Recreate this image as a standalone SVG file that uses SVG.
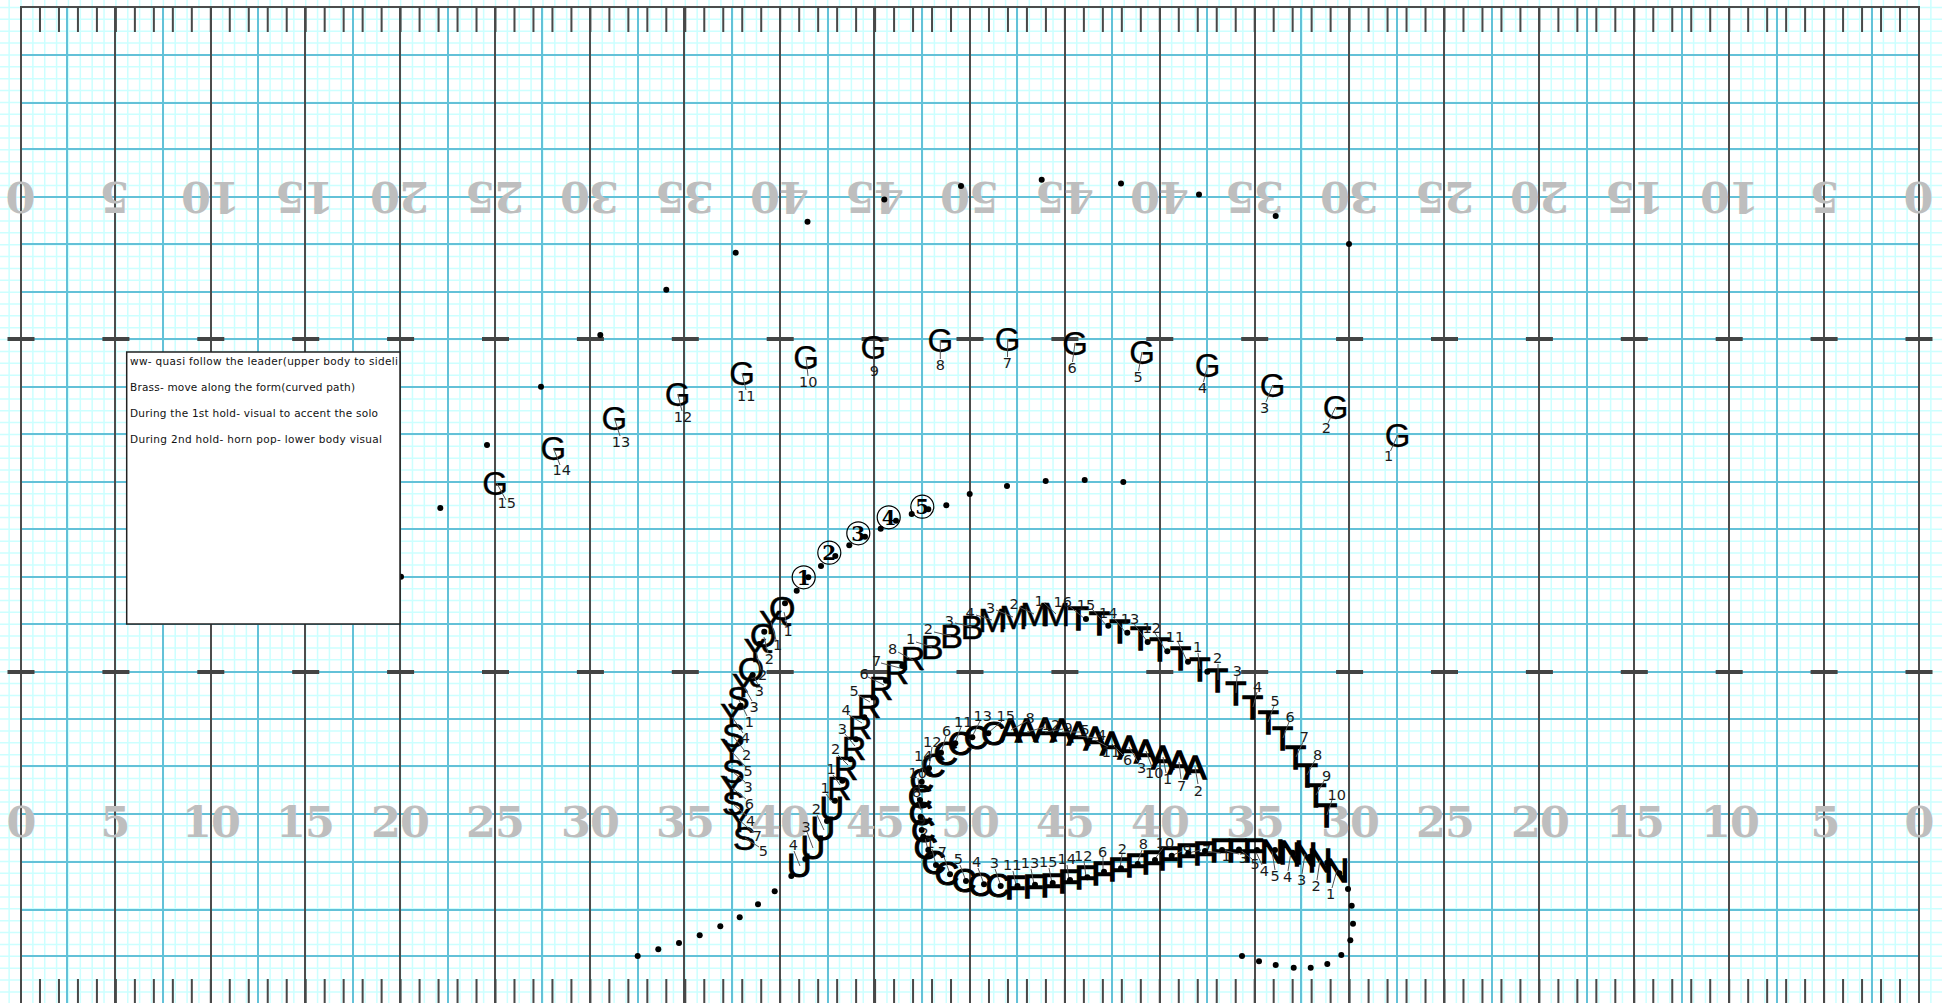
<svg xmlns="http://www.w3.org/2000/svg" width="1942" height="1003" viewBox="0 0 1942 1003">
<style>
.y{font:bold 43px "DejaVu Serif",serif;fill:#bebebe;text-anchor:middle;letter-spacing:-1px}
.p{font:34px "Liberation Sans",Arial,sans-serif;fill:#000;text-anchor:middle;stroke:#000;stroke-width:.6}
[id^=G] .p{font-size:33px;stroke-width:.25}
.c{stroke:#000;stroke-width:1}
.f{stroke:#000;stroke-width:1.5}
.n{font:14.5px "DejaVu Sans",sans-serif;fill:#1a1a1a;text-anchor:middle}
.o{font:bold 20px "DejaVu Serif",serif;fill:#000;text-anchor:middle}
.ring{fill:none;stroke:#000;stroke-width:1.2}
.d circle{fill:#000;r:3px}
.ld line{stroke:#555;stroke-width:1}
.t{font:10.5px "DejaVu Sans",sans-serif;fill:#111}
</style>
<rect width="1942" height="1003" fill="#fff"/>
<g id="grid" fill="none">
<line x1="0" x2="1942" y1="501.5" y2="501.5" stroke="#ccffff" stroke-width="1003" stroke-dasharray="1.5 10.3625" stroke-dashoffset="3.4725"/>
<line x1="971" x2="971" y1="0" y2="1003" stroke="#ccffff" stroke-width="1942" stroke-dasharray="1.5 10.36" stroke-dashoffset="5.11"/>
<path stroke="#63c1d8" stroke-width="2" d="M67 7V1003M163 7V1003M258 7V1003M353 7V1003M448 7V1003M542 7V1003M638 7V1003M732 7V1003M828 7V1003M922 7V1003M1017 7V1003M1112 7V1003M1207 7V1003M1301 7V1003M1397 7V1003M1492 7V1003M1587 7V1003M1682 7V1003M1777 7V1003M1872 7V1003M21 55H1919M21 103H1919M21 149H1919M21 197H1919M21 244H1919M21 292H1919M21 339H1919M21 387H1919M21 434H1919M21 482H1919M21 529H1919M21 577H1919M21 624H1919M21 672H1919M21 719H1919M21 766H1919M21 814H1919M21 862H1919M21 910H1919M21 956H1919"/>
<path stroke="#4c4c4c" stroke-width="2" d="M21 7V1003M115 7V1003M211 7V1003M305 7V1003M400 7V1003M495 7V1003M590 7V1003M684 7V1003M780 7V1003M874 7V1003M970 7V1003M1065 7V1003M1160 7V1003M1255 7V1003M1349 7V1003M1444 7V1003M1539 7V1003M1634 7V1003M1729 7V1003M1824 7V1003M1919 7V1003M20 7H1920"/>
<line x1="20" x2="1920" y1="19.500" y2="19.500" stroke="#484848" stroke-width="25" stroke-dasharray="2 16.98"/>
<line x1="20" x2="1920" y1="991" y2="991" stroke="#484848" stroke-width="24" stroke-dasharray="2 16.98"/>
<line x1="7.500" x2="1935" y1="339" y2="339" stroke="#444" stroke-width="4" stroke-dasharray="27 67.9"/>
<line x1="7.500" x2="1935" y1="672" y2="672" stroke="#444" stroke-width="4" stroke-dasharray="27 67.9"/>
</g>
<g id="yards-bottom">
<text class="y" x="21" y="837">0</text><text class="y" x="115" y="837">5</text><text class="y" x="211" y="837">10</text><text class="y" x="305" y="837">15</text><text class="y" x="400" y="837">20</text><text class="y" x="495" y="837">25</text><text class="y" x="590" y="837">30</text><text class="y" x="685" y="837">35</text><text class="y" x="780" y="837">40</text><text class="y" x="875" y="837">45</text><text class="y" x="970" y="837">50</text><text class="y" x="1065" y="837">45</text><text class="y" x="1160" y="837">40</text><text class="y" x="1255" y="837">35</text><text class="y" x="1350" y="837">30</text><text class="y" x="1445" y="837">25</text><text class="y" x="1540" y="837">20</text><text class="y" x="1635" y="837">15</text><text class="y" x="1730" y="837">10</text><text class="y" x="1825" y="837">5</text><text class="y" x="1919" y="837">0</text>
</g>
<g id="yards-top">
<text class="y" transform="rotate(180 21 198.500)" x="21" y="215">0</text><text class="y" transform="rotate(180 115 198.500)" x="115" y="215">5</text><text class="y" transform="rotate(180 211 198.500)" x="211" y="215">10</text><text class="y" transform="rotate(180 305 198.500)" x="305" y="215">15</text><text class="y" transform="rotate(180 400 198.500)" x="400" y="215">20</text><text class="y" transform="rotate(180 495 198.500)" x="495" y="215">25</text><text class="y" transform="rotate(180 590 198.500)" x="590" y="215">30</text><text class="y" transform="rotate(180 685 198.500)" x="685" y="215">35</text><text class="y" transform="rotate(180 780 198.500)" x="780" y="215">40</text><text class="y" transform="rotate(180 875 198.500)" x="875" y="215">45</text><text class="y" transform="rotate(180 970 198.500)" x="970" y="215">50</text><text class="y" transform="rotate(180 1065 198.500)" x="1065" y="215">45</text><text class="y" transform="rotate(180 1160 198.500)" x="1160" y="215">40</text><text class="y" transform="rotate(180 1255 198.500)" x="1255" y="215">35</text><text class="y" transform="rotate(180 1350 198.500)" x="1350" y="215">30</text><text class="y" transform="rotate(180 1445 198.500)" x="1445" y="215">25</text><text class="y" transform="rotate(180 1540 198.500)" x="1540" y="215">20</text><text class="y" transform="rotate(180 1635 198.500)" x="1635" y="215">15</text><text class="y" transform="rotate(180 1730 198.500)" x="1730" y="215">10</text><text class="y" transform="rotate(180 1825 198.500)" x="1825" y="215">5</text><text class="y" transform="rotate(180 1919 198.500)" x="1919" y="215">0</text>
</g>
<g id="trail" class="d">
<circle cx="401" cy="576.700"/>
<circle cx="1349" cy="244"/><circle cx="1275.700" cy="216"/><circle cx="1199" cy="194.500"/><circle cx="1121" cy="183.500"/><circle cx="1041.700" cy="179.700"/><circle cx="961" cy="186"/><circle cx="884.300" cy="199.500"/><circle cx="807.500" cy="221.700"/><circle cx="735.700" cy="252.700"/><circle cx="666.300" cy="289.800"/><circle cx="600.300" cy="335"/><circle cx="541" cy="386.700"/><circle cx="487" cy="445"/><circle cx="440.300" cy="508"/>
<circle cx="796.700" cy="590.700"/><circle cx="821" cy="566"/><circle cx="849.300" cy="545.300"/><circle cx="880.700" cy="528.700"/><circle cx="911.700" cy="514"/><circle cx="946.300" cy="505.300"/><circle cx="969.700" cy="494"/><circle cx="1007" cy="486"/><circle cx="1045.700" cy="481"/><circle cx="1084.700" cy="480"/><circle cx="1123.300" cy="482"/>
<circle cx="637.700" cy="956"/><circle cx="658.300" cy="949.300"/><circle cx="679" cy="943"/><circle cx="699.700" cy="935.300"/><circle cx="720.300" cy="926.300"/><circle cx="739.700" cy="917.300"/><circle cx="758" cy="904.300"/><circle cx="774.700" cy="891.300"/>
<circle cx="1242" cy="956"/><circle cx="1259" cy="961.300"/><circle cx="1275.700" cy="965"/><circle cx="1293.700" cy="967.700"/><circle cx="1310.700" cy="967.700"/><circle cx="1327.300" cy="964"/><circle cx="1341.300" cy="955"/><circle cx="1350.300" cy="940.300"/><circle cx="1353" cy="923.700"/><circle cx="1351.700" cy="905.700"/><circle cx="1348" cy="889"/>
</g>
<g id="soloists">
<g id="solo1"><circle class="ring" cx="803.700" cy="577.300" r="11.500"/><text class="o" x="803.700" y="584.500">1</text></g>
<g id="solo2"><circle class="ring" cx="829.300" cy="552.700" r="11.500"/><text class="o" x="829.300" y="560">2</text></g>
<g id="solo3"><circle class="ring" cx="858.300" cy="533.300" r="11.500"/><text class="o" x="858.300" y="540.500">3</text></g>
<g id="solo4"><circle class="ring" cx="888.700" cy="517.300" r="11.500"/><text class="o" x="888.700" y="524.500">4</text></g>
<g id="solo5"><circle class="ring" cx="922.300" cy="506.700" r="11.500"/><text class="o" x="922.300" y="514">5</text></g>
</g>
<g id="performers">
<g id="G15"><text class="p" x="495" y="494.500">G</text></g><g id="G14"><text class="p" x="553.300" y="460">G</text></g><g id="G13"><text class="p" x="614.300" y="430">G</text></g><g id="G12"><text class="p" x="677.700" y="406">G</text></g><g id="G11"><text class="p" x="742" y="385">G</text></g><g id="G10"><text class="p" x="806" y="369.300">G</text></g><g id="G9"><text class="p" x="873.300" y="359.300">G</text></g><g id="G8"><text class="p" x="940.300" y="352.300">G</text></g><g id="G7"><text class="p" x="1007.700" y="351.300">G</text></g><g id="G6"><text class="p" x="1075" y="354.700">G</text></g><g id="G5"><text class="p" x="1142" y="364.300">G</text></g><g id="G4"><text class="p" x="1207.700" y="377.300">G</text></g><g id="G3"><text class="p" x="1272.700" y="396.700">G</text></g><g id="G2"><text class="p" x="1335.700" y="418.700">G</text></g><g id="G1"><text class="p" x="1397.700" y="447">G</text></g>
<g id="Q1"><text class="p" x="782.300" y="620">Q</text></g><g id="Y1"><text class="p" x="770.700" y="634">Y</text></g><g id="Q2"><text class="p" x="763.300" y="647">Q</text></g><g id="Y2"><text class="p" x="755" y="662">Y</text></g><g id="Q3"><text class="p" x="751" y="681">Q</text></g><g id="Y3"><text class="p" x="743.300" y="697">Y</text></g><g id="S1"><text class="p" x="738.300" y="710">S</text></g><g id="Y4"><text class="p" x="731.700" y="727">Y</text></g><g id="S2"><text class="p" x="733.300" y="747">S</text></g><g id="Y5"><text class="p" x="731.700" y="762">Y</text></g><g id="S3"><text class="p" x="733.300" y="782.700">S</text></g><g id="Y6"><text class="p" x="731.700" y="798.700">Y</text></g><g id="S4"><text class="p" x="733.300" y="815.300">S</text></g><g id="Y7"><text class="p" x="739.300" y="832">Y</text></g><g id="S5"><text class="p" x="744.300" y="850.300">S</text></g>
<g id="U1"><text class="p c" x="831.700" y="820">U</text></g><g id="U2"><text class="p c" x="822.700" y="840">U</text></g><g id="U3"><text class="p c" x="812.700" y="858.700">U</text></g><g id="U4"><text class="p c" x="799.300" y="877">U</text></g>
<g id="R1"><text class="p" x="839.300" y="800.300">R</text></g><g id="R2"><text class="p" x="846" y="780">R</text></g><g id="R3"><text class="p" x="854" y="760">R</text></g><g id="R4"><text class="p" x="860" y="738.700">R</text></g><g id="R5"><text class="p" x="869" y="717.700">R</text></g><g id="R6"><text class="p" x="881" y="700.300">R</text></g><g id="R7"><text class="p" x="896.700" y="683.700">R</text></g><g id="R8"><text class="p" x="913" y="670">R</text></g>
<g id="B1"><text class="p" x="932" y="659">B</text></g><g id="B2"><text class="p" x="951.500" y="648">B</text></g><g id="B3"><text class="p" x="972" y="639">B</text></g>
<g id="M4"><text class="p" x="992.300" y="632">M</text></g><g id="M3"><text class="p" x="1013.300" y="628.700">M</text></g><g id="M2"><text class="p" x="1034.300" y="626.300">M</text></g><g id="M1"><text class="p" x="1056" y="626.300">M</text></g>
<g id="T16"><text class="p f" x="1078.300" y="630">T</text></g><g id="T15"><text class="p f" x="1099.300" y="635.300">T</text></g><g id="T14"><text class="p f" x="1120" y="643">T</text></g><g id="T13"><text class="p f" x="1140.700" y="650.300">T</text></g><g id="T12"><text class="p f" x="1160" y="661.300">T</text></g><g id="T11"><text class="p f" x="1180.700" y="670.300">T</text></g><g id="T1"><text class="p f" x="1200" y="681">T</text></g><g id="T2"><text class="p f" x="1217.700" y="692">T</text></g><g id="T3"><text class="p f" x="1236" y="705">T</text></g><g id="T4"><text class="p f" x="1252.700" y="719.300">T</text></g><g id="T5"><text class="p f" x="1268.300" y="733.700">T</text></g><g id="T6"><text class="p f" x="1282.700" y="750.300">T</text></g><g id="T7"><text class="p f" x="1295.700" y="768.700">T</text></g><g id="T8"><text class="p f" x="1307.300" y="787">T</text></g><g id="T9"><text class="p f" x="1316" y="807.300">T</text></g><g id="T10"><text class="p f" x="1326.700" y="827">T</text></g>
<g id="A8"><text class="p f" x="1010.700" y="742">A</text></g><g id="A12"><text class="p f" x="1026.700" y="742">A</text></g><g id="A9"><text class="p f" x="1045" y="741.300">A</text></g><g id="A5"><text class="p f" x="1061.700" y="742">A</text></g><g id="A4"><text class="p f" x="1078.300" y="745.300">A</text></g><g id="A11"><text class="p f" x="1095" y="749.700">A</text></g><g id="A6"><text class="p f" x="1111.700" y="755.300">A</text></g><g id="A3"><text class="p f" x="1129" y="758.700">A</text></g><g id="A10"><text class="p f" x="1145.700" y="762.700">A</text></g><g id="A1"><text class="p f" x="1162.700" y="768.700">A</text></g><g id="A7"><text class="p f" x="1179" y="773.700">A</text></g><g id="A2"><text class="p f" x="1195" y="778.700">A</text></g>
<g id="C15"><text class="p c" x="993.300" y="744.700">C</text></g><g id="C13"><text class="p c" x="976" y="749.300">C</text></g><g id="C11"><text class="p c" x="960" y="755.300">C</text></g><g id="C6"><text class="p c" x="945.700" y="764.700">C</text></g><g id="C12"><text class="p c" x="933.300" y="776.700">C</text></g><g id="C14"><text class="p c" x="921.700" y="792">C</text></g><g id="C10"><text class="p c" x="920" y="808">C</text></g><g id="C8"><text class="p c" x="920.700" y="825.300">C</text></g><g id="C9"><text class="p c" x="923.300" y="842">C</text></g><g id="C2"><text class="p c" x="925.700" y="859.300">C</text></g><g id="C1"><text class="p c" x="933.700" y="874">C</text></g><g id="C7"><text class="p c" x="946.700" y="885.300">C</text></g><g id="C5"><text class="p c" x="964" y="892">C</text></g><g id="C4"><text class="p c" x="980" y="896.300">C</text></g><g id="C3"><text class="p c" x="997.700" y="897">C</text></g>
<g id="F11"><text class="p f" x="1015.500" y="898.700">F</text></g><g id="F13"><text class="p f" x="1033.500" y="897.700">F</text></g><g id="F15"><text class="p f" x="1050.800" y="896.700">F</text></g><g id="F14"><text class="p f" x="1068.500" y="893">F</text></g><g id="F12"><text class="p f" x="1085.200" y="889.300">F</text></g><g id="F6"><text class="p f" x="1101.800" y="885.300">F</text></g><g id="F2"><text class="p f" x="1118.500" y="881">F</text></g><g id="F8"><text class="p f" x="1135.500" y="877">F</text></g><g id="F10"><text class="p f" x="1151.800" y="873.700">F</text></g><g id="F9"><text class="p f" x="1168.500" y="870">F</text></g><g id="F7"><text class="p f" x="1185.800" y="867.300">F</text></g><g id="F1"><text class="p f" x="1203.500" y="864.500">F</text></g><g id="F3"><text class="p f" x="1220.200" y="862">F</text></g><g id="F5"><text class="p f" x="1237" y="862">F</text></g><g id="F4"><text class="p f" x="1253.500" y="862">F</text></g>
<g id="N5"><text class="p f" x="1272.300" y="862.700">N</text></g><g id="N4"><text class="p f" x="1290.700" y="864.300">N</text></g><g id="N3"><text class="p f" x="1305" y="866">N</text></g><g id="N2"><text class="p f" x="1320" y="872">N</text></g><g id="N1"><text class="p f" x="1336.700" y="882">N</text></g>
</g>
<g id="connectors" class="ld">
<line x1="496.700" y1="483" x2="506" y2="500"/><line x1="553.300" y1="448" x2="560" y2="465"/><line x1="614.300" y1="418" x2="620" y2="436"/><line x1="677.700" y1="394" x2="682" y2="411"/><line x1="742" y1="373" x2="746" y2="390"/><line x1="806" y1="357" x2="808" y2="376"/><line x1="873.300" y1="347" x2="874" y2="365"/><line x1="940.300" y1="340" x2="940.300" y2="359"/><line x1="1007.700" y1="339" x2="1007.500" y2="357"/><line x1="1075" y1="343" x2="1072.500" y2="362"/><line x1="1142" y1="352" x2="1138.500" y2="371"/><line x1="1207.700" y1="365" x2="1203.500" y2="382"/><line x1="1272.700" y1="385" x2="1266" y2="402"/><line x1="1335.700" y1="407" x2="1328" y2="423"/><line x1="1397.700" y1="435" x2="1390.500" y2="451"/>
<line x1="784" y1="612" x2="787" y2="625"/><line x1="771" y1="622" x2="776" y2="640"/><line x1="764" y1="637" x2="768" y2="653"/><line x1="756" y1="652" x2="761" y2="670"/><line x1="752" y1="672" x2="758" y2="685"/><line x1="744" y1="687" x2="752" y2="701"/><line x1="739" y1="700" x2="747" y2="716"/><line x1="732" y1="717" x2="743" y2="733"/><line x1="733" y1="736" x2="744" y2="750"/><line x1="732" y1="752" x2="745" y2="766"/><line x1="733" y1="772" x2="745" y2="782"/><line x1="732" y1="788" x2="746" y2="799"/><line x1="733" y1="804" x2="747" y2="816"/><line x1="739" y1="820" x2="753" y2="832"/><line x1="745" y1="838" x2="759" y2="847"/>
<line x1="833" y1="803" x2="826" y2="794"/><line x1="824" y1="830" x2="817" y2="815"/><line x1="813" y1="848" x2="807" y2="832"/><line x1="800" y1="866" x2="794" y2="851"/>
<line x1="840" y1="785" x2="833" y2="775"/><line x1="848" y1="765" x2="838" y2="755"/><line x1="855" y1="746" x2="845" y2="734"/><line x1="862" y1="723" x2="849" y2="715"/><line x1="870" y1="702" x2="858" y2="695"/><line x1="884" y1="685" x2="868" y2="677"/><line x1="900" y1="668" x2="881" y2="663"/><line x1="913" y1="660" x2="898" y2="652"/>
<line x1="932" y1="647" x2="916" y2="642"/><line x1="951" y1="636" x2="934" y2="632"/><line x1="972" y1="627" x2="955" y2="623"/>
<line x1="992" y1="620" x2="976" y2="615"/><line x1="1013" y1="617" x2="996" y2="610"/><line x1="1034" y1="614" x2="1019" y2="607"/><line x1="1056" y1="614" x2="1044" y2="603"/>
<line x1="1085" y1="619" x2="1068" y2="605"/><line x1="1107" y1="626" x2="1092" y2="609"/><line x1="1126" y1="633" x2="1113" y2="617"/><line x1="1147" y1="641" x2="1134" y2="624"/><line x1="1166" y1="651" x2="1155" y2="633"/><line x1="1187" y1="661" x2="1178" y2="642"/><line x1="1200" y1="669" x2="1198" y2="653"/><line x1="1218" y1="680" x2="1218" y2="664"/><line x1="1236" y1="693" x2="1237" y2="676"/><line x1="1253" y1="707" x2="1257" y2="692"/><line x1="1268" y1="722" x2="1274" y2="706"/><line x1="1283" y1="738" x2="1289" y2="722"/><line x1="1296" y1="757" x2="1303" y2="742"/><line x1="1307" y1="775" x2="1315" y2="760"/><line x1="1316" y1="795" x2="1324" y2="781"/><line x1="1327" y1="815" x2="1332" y2="800"/>
<line x1="1011" y1="730" x2="1027" y2="721"/><line x1="1027" y1="732" x2="1045" y2="727"/><line x1="1045" y1="732" x2="1063" y2="729"/><line x1="1062" y1="732" x2="1081" y2="732"/><line x1="1078" y1="736" x2="1097" y2="738"/><line x1="1095" y1="740" x2="1108" y2="747"/><line x1="1112" y1="744" x2="1123" y2="755"/><line x1="1129" y1="747" x2="1138" y2="762"/><line x1="1146" y1="751" x2="1152" y2="767"/><line x1="1163" y1="757" x2="1166" y2="773"/><line x1="1179" y1="762" x2="1181" y2="779"/><line x1="1195" y1="767" x2="1198" y2="784"/>
<line x1="988" y1="733" x2="1002" y2="721"/><line x1="972" y1="737" x2="980" y2="721"/><line x1="955" y1="743" x2="961" y2="727"/><line x1="941" y1="753" x2="946" y2="736"/><line x1="929" y1="768" x2="932" y2="747"/><line x1="922" y1="782" x2="923" y2="761"/><line x1="920" y1="795" x2="918" y2="778"/><line x1="921" y1="810" x2="917" y2="797"/><line x1="928" y1="850" x2="925" y2="838"/><line x1="936" y1="865" x2="932" y2="849"/><line x1="950" y1="874" x2="944" y2="857"/><line x1="966" y1="881" x2="960" y2="865"/><line x1="984" y1="884" x2="978" y2="868"/><line x1="1001" y1="886" x2="995" y2="869"/>
<line x1="1016" y1="885" x2="1013" y2="871"/><line x1="1034" y1="884" x2="1031" y2="869"/><line x1="1052" y1="883" x2="1049" y2="868"/><line x1="1069" y1="880" x2="1067" y2="865"/><line x1="1086" y1="877" x2="1084" y2="861"/><line x1="1103" y1="872" x2="1103" y2="857"/><line x1="1120" y1="868" x2="1122" y2="854"/><line x1="1137" y1="864" x2="1142" y2="850"/><line x1="1154" y1="860" x2="1163" y2="848"/><line x1="1171" y1="856" x2="1182" y2="851"/><line x1="1188" y1="853" x2="1201" y2="850"/><line x1="1205" y1="851" x2="1221" y2="853"/><line x1="1222" y1="850" x2="1239" y2="854"/><line x1="1239" y1="849" x2="1252" y2="859"/><line x1="1255" y1="850" x2="1262" y2="865"/>
<line x1="1272" y1="851" x2="1275" y2="870"/><line x1="1291" y1="852" x2="1288" y2="871"/><line x1="1305" y1="854" x2="1302" y2="874"/><line x1="1320" y1="860" x2="1317" y2="880"/><line x1="1337" y1="870" x2="1332" y2="888"/>
</g>
<g id="numbers">
<text class="n" x="506.700" y="508">15</text><text class="n" x="561.700" y="475">14</text><text class="n" x="621" y="446.700">13</text><text class="n" x="683" y="421.700">12</text><text class="n" x="746.300" y="401">11</text><text class="n" x="808.300" y="387">10</text><text class="n" x="874.300" y="376">9</text><text class="n" x="940.300" y="370">8</text><text class="n" x="1007.300" y="368.300">7</text><text class="n" x="1072" y="372.700">6</text><text class="n" x="1138" y="382.300">5</text><text class="n" x="1202.700" y="393.300">4</text><text class="n" x="1264.700" y="412.700">3</text><text class="n" x="1326.300" y="433.300">2</text><text class="n" x="1388.700" y="461">1</text>
<text class="n" x="788" y="635.700">1</text><text class="n" x="777.700" y="650">1</text><text class="n" x="769.300" y="664">2</text><text class="n" x="762.700" y="680">2</text><text class="n" x="759.300" y="695.700">3</text><text class="n" x="754" y="711.700">3</text><text class="n" x="749.300" y="726.700">1</text><text class="n" x="745.300" y="743.300">4</text><text class="n" x="746.700" y="760">2</text><text class="n" x="748" y="775.700">5</text><text class="n" x="748" y="792.300">3</text><text class="n" x="749.300" y="809.300">6</text><text class="n" x="750.700" y="826">4</text><text class="n" x="757.300" y="841">7</text><text class="n" x="763.300" y="855.700">5</text>
<text class="n" x="825" y="793.300">1</text><text class="n" x="816.300" y="814">2</text><text class="n" x="806" y="831.700">3</text><text class="n" x="793.300" y="850">4</text>
<text class="n" x="831" y="774.300">1</text><text class="n" x="835.700" y="754">2</text><text class="n" x="842.300" y="734.300">3</text><text class="n" x="846" y="715">4</text><text class="n" x="854" y="696">5</text><text class="n" x="864" y="679">6</text><text class="n" x="876.700" y="665.700">7</text><text class="n" x="892.700" y="654">8</text>
<text class="n" x="910.700" y="644.300">1</text><text class="n" x="928.300" y="634.300">2</text><text class="n" x="949.300" y="625.700">3</text>
<text class="n" x="970" y="618.300">4</text><text class="n" x="990.700" y="613.300">3</text><text class="n" x="1014" y="609.300">2</text><text class="n" x="1039" y="605.700">1</text>
<text class="n" x="1062.700" y="606.700">16</text><text class="n" x="1086" y="610">15</text><text class="n" x="1108.300" y="618.300">14</text><text class="n" x="1130" y="624.300">13</text><text class="n" x="1151.700" y="633.300">12</text><text class="n" x="1175" y="642.300">11</text><text class="n" x="1197.700" y="652.300">1</text><text class="n" x="1217.700" y="663.300">2</text><text class="n" x="1237.300" y="675.700">3</text><text class="n" x="1257.700" y="691.700">4</text><text class="n" x="1275" y="705.700">5</text><text class="n" x="1290" y="722.300">6</text><text class="n" x="1304.300" y="742.300">7</text><text class="n" x="1317.700" y="760">8</text><text class="n" x="1326.700" y="780.700">9</text><text class="n" x="1336.700" y="800">10</text>
<text class="n" x="1030" y="723.300">8</text><text class="n" x="1051" y="730">12</text><text class="n" x="1068" y="733">9</text><text class="n" x="1085" y="735">5</text><text class="n" x="1101.700" y="740">4</text><text class="n" x="1111" y="756.700">11</text><text class="n" x="1127.700" y="765">6</text><text class="n" x="1141.700" y="773.300">3</text><text class="n" x="1154.300" y="778.300">10</text><text class="n" x="1167.700" y="784.300">1</text><text class="n" x="1181.700" y="790.700">7</text><text class="n" x="1198.300" y="795.700">2</text>
<text class="n" x="1005.700" y="720.700">15</text><text class="n" x="982.700" y="720.700">13</text><text class="n" x="963.300" y="726.700">11</text><text class="n" x="946.700" y="735.700">6</text><text class="n" x="932.300" y="746.700">12</text><text class="n" x="923.300" y="761">14</text><text class="n" x="917.700" y="777.700">10</text><text class="n" x="916.700" y="796.700">8</text><text class="n" x="921.700" y="825">9</text><text class="n" x="924" y="838">2</text><text class="n" x="930" y="848">1</text><text class="n" x="942.300" y="856.700">7</text><text class="n" x="958.300" y="864.300">5</text><text class="n" x="976.700" y="867.300">4</text><text class="n" x="994.300" y="868.300">3</text>
<text class="n" x="1012.300" y="870">11</text><text class="n" x="1030" y="868.300">13</text><text class="n" x="1048.300" y="867.300">15</text><text class="n" x="1066.700" y="864.300">14</text><text class="n" x="1083.300" y="860.700">12</text><text class="n" x="1102.700" y="857.300">6</text><text class="n" x="1122.300" y="854.300">2</text><text class="n" x="1143.300" y="849">8</text><text class="n" x="1165" y="847.700">10</text><text class="n" x="1187.300" y="855">9</text><text class="n" x="1206.700" y="855">7</text><text class="n" x="1226" y="861">1</text><text class="n" x="1243.300" y="863.300">3</text><text class="n" x="1255" y="869">5</text><text class="n" x="1264.300" y="875.700">4</text>
<text class="n" x="1275" y="880.700">5</text><text class="n" x="1287.700" y="881.700">4</text><text class="n" x="1301.700" y="885">3</text><text class="n" x="1316" y="890.700">2</text><text class="n" x="1330.700" y="899">1</text>
</g>
<g id="dots" class="d">
<circle cx="808.300" cy="577.300"/><circle cx="835.300" cy="556"/><circle cx="865" cy="536.700"/><circle cx="896" cy="520.700"/><circle cx="928.300" cy="509.300"/>
<circle cx="785" cy="603.300"/><circle cx="764.300" cy="631.700"/><circle cx="759.300" cy="644"/><circle cx="752.700" cy="675"/><circle cx="740.700" cy="705.700"/>
<circle cx="791.300" cy="876"/><circle cx="805.300" cy="859"/><circle cx="820.300" cy="838.700"/><circle cx="827" cy="821"/><circle cx="835" cy="800.700"/><circle cx="842.300" cy="780.700"/><circle cx="850.700" cy="759.300"/><circle cx="856" cy="739.300"/><circle cx="864.300" cy="717.300"/><circle cx="873.300" cy="697.300"/><circle cx="886" cy="680.700"/><circle cx="902.300" cy="666"/>
<circle cx="1086" cy="619"/><circle cx="1108.300" cy="625.700"/><circle cx="1127.300" cy="632.700"/><circle cx="1147.700" cy="642"/><circle cx="1167.300" cy="651.300"/><circle cx="1188" cy="661.700"/><circle cx="1207.300" cy="671.700"/>
<circle cx="988.300" cy="733.300"/><circle cx="972.300" cy="737.300"/><circle cx="955.300" cy="743.300"/><circle cx="941" cy="752.700"/><circle cx="929" cy="768.300"/><circle cx="921.700" cy="781.700"/><circle cx="920" cy="800"/><circle cx="920.700" cy="816.700"/><circle cx="921.700" cy="830"/><circle cx="923.300" cy="836.700"/><circle cx="928.300" cy="850"/><circle cx="936" cy="865"/><circle cx="950" cy="874.300"/><circle cx="966" cy="881"/><circle cx="984" cy="884.300"/><circle cx="1000.700" cy="886"/>
<circle cx="1017.500" cy="886"/><circle cx="1035" cy="884.700"/><circle cx="1052.700" cy="883"/><circle cx="1070" cy="880"/><circle cx="1087.300" cy="877.300"/><circle cx="1104" cy="871.700"/><circle cx="1121" cy="868.300"/><circle cx="1137.700" cy="864"/><circle cx="1155" cy="860"/><circle cx="1171.700" cy="855.700"/><circle cx="1188.300" cy="853.300"/><circle cx="1205" cy="851"/><circle cx="1222" cy="850"/><circle cx="1239" cy="849.500"/><circle cx="1257" cy="850"/>
<circle cx="1275" cy="850"/><circle cx="1292.700" cy="852.700"/><circle cx="1310" cy="856.700"/><circle cx="1327.300" cy="862.700"/><circle cx="1339.300" cy="873.300"/>
</g>
<g id="note">
<rect x="126.700" y="352" width="273.300" height="272" fill="#fff" stroke="#222" stroke-width="1.500"/>
<text class="t" x="130" y="365" textLength="268" lengthAdjust="spacing">ww- quasi follow the leader(upper body to sideli</text>
<text class="t" x="130" y="391" textLength="225" lengthAdjust="spacing">Brass- move along the form(curved path)</text>
<text class="t" x="130" y="417" textLength="248" lengthAdjust="spacing">During the 1st hold- visual to accent the solo</text>
<text class="t" x="130" y="443" textLength="252" lengthAdjust="spacing">During 2nd hold- horn pop- lower body visual</text>
</g>
</svg>
